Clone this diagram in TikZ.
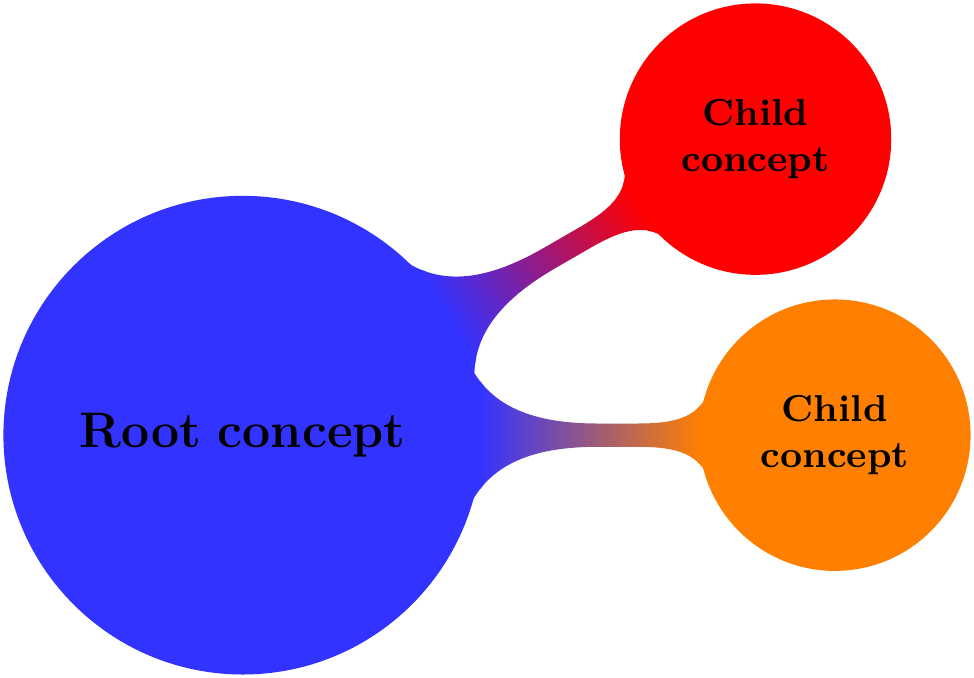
\documentclass[tikz,border=0pt]{standalone}
\usetikzlibrary{mindmap}
\begin{document}
\begin{tikzpicture}
  \tikzset{rootfont/.style={font=\large\bfseries},
           childfont/.style={font=\small\bfseries,text width=1.8cm,align=center}}
  \useasboundingbox (-2.05,-2.05) rectangle (6.175,3.675);
  \path[mindmap,concept color=blue!80]
    node[concept,rootfont] (root) at (0,0) {Root concept}
    child[grow=30,concept color=red] {node[concept,childfont] (c1) {Child concept}}
    child[grow=0,concept color=orange] {node[concept,childfont] (c2) {Child concept}};
\end{tikzpicture}
\end{document}
